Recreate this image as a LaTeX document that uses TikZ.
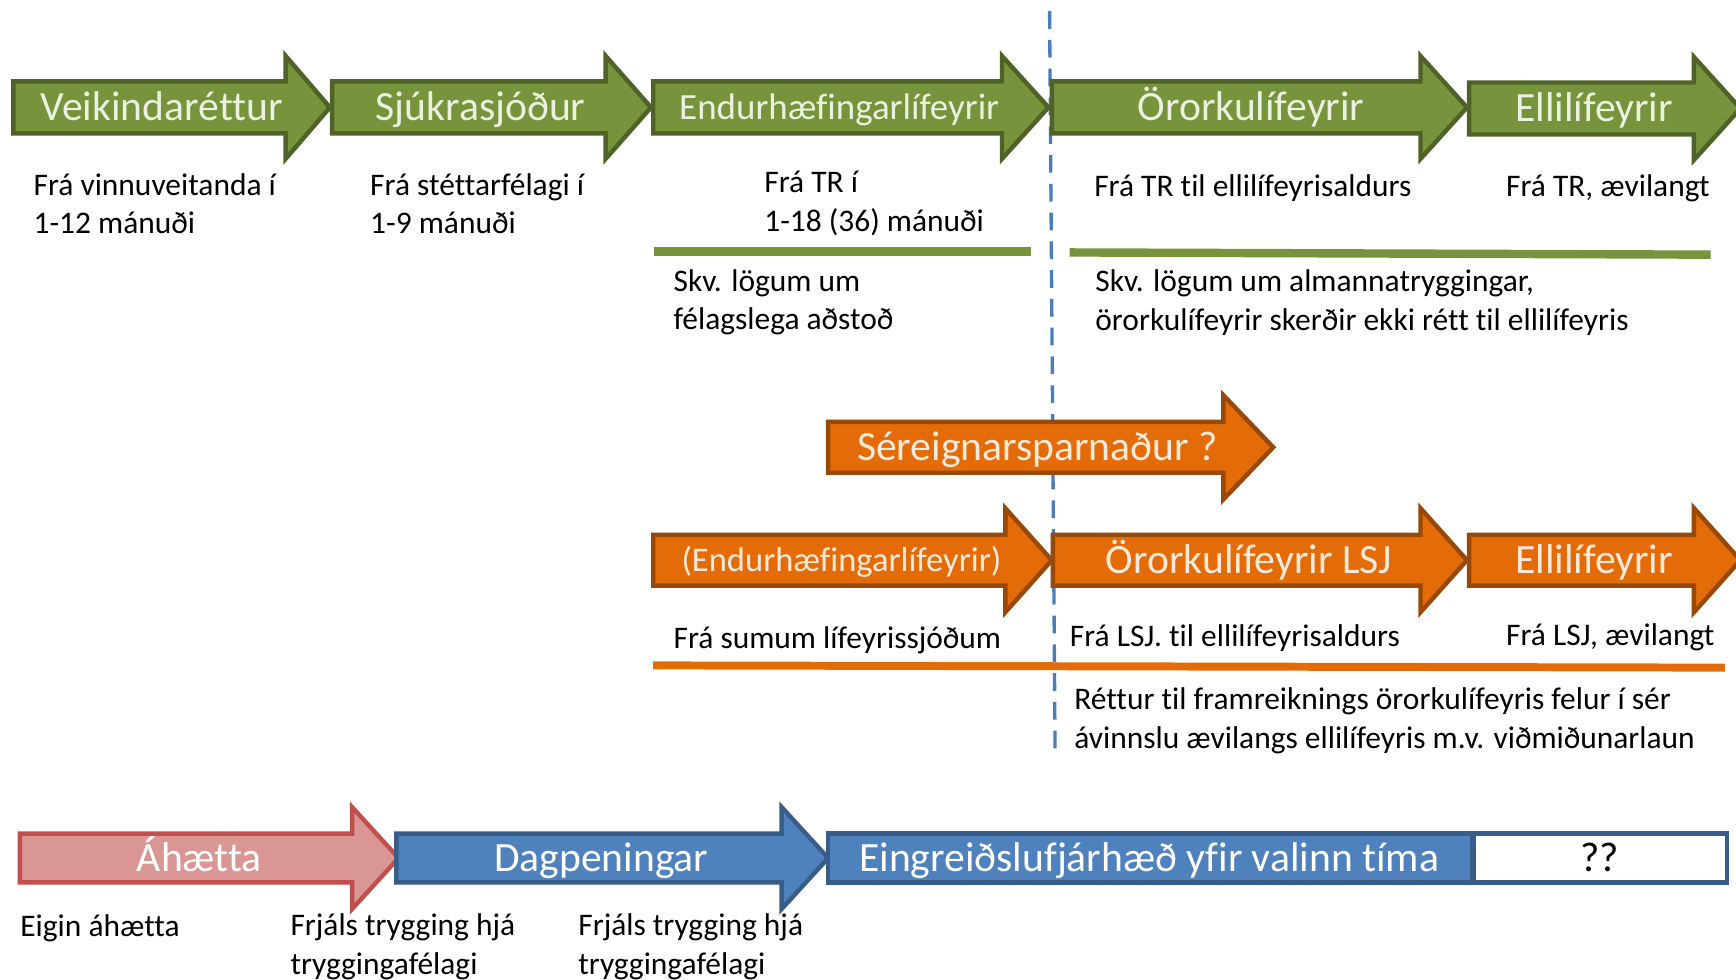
\documentclass[tikz,border=0pt]{standalone}
\usepackage{fontspec}
\setmainfont{Carlito}[Ligatures=NoCommon]
\definecolor{gfill}{HTML}{77933C}
\definecolor{gdraw}{HTML}{4F6228}
\definecolor{gtext}{HTML}{EBF1DE}
\definecolor{ofill}{HTML}{E36C09}
\definecolor{odraw}{HTML}{984807}
\definecolor{otext}{HTML}{FDE9D9}
\definecolor{rfill}{HTML}{D99694}
\definecolor{rdraw}{HTML}{C0504D}
\definecolor{bfill}{HTML}{4F81BD}
\definecolor{bdraw}{HTML}{385D8A}
\definecolor{dline}{HTML}{4A7EBB}
% style, x-left, x-headbase, x-tip, y-centre, body half, head half
\newcommand{\ArrowPath}[7]{%
  \draw[#1] (#2,#5-#6) -- (#3,#5-#6) -- (#3,#5-#7) -- (#4,#5) -- (#3,#5+#7) -- (#3,#5+#6) -- (#2,#5+#6) -- cycle;}
\begin{document}
\begin{tikzpicture}[x=0.5pt,y=-0.5pt,
  garrow/.style={fill=gfill,draw=gdraw,line width=2pt,line join=miter},
  oarrow/.style={fill=ofill,draw=odraw,line width=2pt,line join=miter},
  rarrow/.style={fill=rfill,draw=rdraw,line width=2pt,line join=miter},
  barrow/.style={fill=bfill,draw=bdraw,line width=2pt,line join=miter},
  lbl/.style={font=\fontsize{18.8}{22}\selectfont,inner sep=0pt,anchor=base},
  txt/.style={font=\fontsize{14.2}{17.5}\selectfont,inner sep=0pt,anchor=west,align=left},
  gline/.style={draw=gfill,line width=3.8pt},
  oline/.style={draw=ofill,line width=3.6pt}]
\useasboundingbox (0,0) rectangle (1568,885);

% horizontal rules
\coordinate (g1a) at (591,227); \coordinate (g1b) at (931,227);
\coordinate (g2a) at (966,228); \coordinate (g2b) at (1545,230);
\coordinate (o1a) at (590,601); \coordinate (o1b) at (1558,603);
\draw[gline] (g1a) -- (g1b);
\draw[gline] (g2a) -- (g2b);
\draw[oline] (o1a) -- (o1b);

% dashed divider
\coordinate (d1) at (948,10); \coordinate (d2) at (953,682);
\draw[dline,line width=1.5pt,dash pattern=on 8pt off 5pt] (d1) -- (d2);

% green row
\ArrowPath{garrow}{12}{258}{298}{97}{23.5}{46.5}
\ArrowPath{garrow}{300}{547}{588}{97}{23.5}{46.5}
\ArrowPath{garrow}{590}{905}{947}{97}{23.5}{46.5}
\ArrowPath{garrow}{950}{1283}{1325}{97}{23.5}{46.5}
\ArrowPath{garrow}{1327}{1530}{1572}{98}{23.5}{46.5}
\node[lbl,text=gtext] (gA) at (146,109) {Veikindaréttur};
\node[lbl,text=gtext] (gB) at (434,109) {Sjúkrasjóður};
\node[lbl,text=gtext,font=\fontsize{16.7}{20}\selectfont] (gC) at (758,108) {Endurhæfingarlífeyrir};
\node[lbl,text=gtext] (gD) at (1130,109) {Örorkulífeyrir};
\node[lbl,text=gtext] (gE) at (1440,110) {Ellilífeyrir};

\node[txt] (tA) at (30,184) {Frá vinnuveitanda í\\1-12 mánuði};
\node[txt] (tB) at (334,184) {Frá stéttarfélagi í\\1-9 mánuði};
\node[txt] (tC) at (690,184) {Frá TR í\\1-18 (36) mánuði};
\node[txt] (tD) at (988,170) {Frá TR til ellilífeyrisaldurs};
\node[txt] (tE) at (1360,170) {Frá TR, ævilangt};
\node[txt] (tF) at (608,273) {Skv. lögum um\\félagslega aðstoð};
\node[txt] (tG) at (989,273) {Skv. lögum um almannatryggingar,\\örorkulífeyrir skerðir ekki rétt til ellilífeyris};

% orange rows
\ArrowPath{oarrow}{748}{1105}{1150}{404}{23}{47}
\node[lbl,text=otext] (oS) at (937,416) {Séreignarsparnaður ?};
\ArrowPath{oarrow}{590}{908}{950}{506}{23}{47}
\ArrowPath{oarrow}{951}{1283}{1325}{506}{23}{47}
\ArrowPath{oarrow}{1327}{1530}{1572}{506}{23}{47}
\node[lbl,text=otext,font=\fontsize{15.6}{19}\selectfont] (oA) at (760,516) {(Endurhæfingarlífeyrir)};
\node[lbl,text=otext] (oB) at (1128,518) {Örorkulífeyrir LSJ};
\node[lbl,text=otext] (oC) at (1440,518) {Ellilífeyrir};

\node[txt] (uA) at (608,578) {Frá sumum lífeyrissjóðum};
\node[txt] (uB) at (966,576) {Frá LSJ. til ellilífeyrisaldurs};
\node[txt] (uC) at (1360,576) {Frá LSJ, ævilangt};
\node[txt] (uD) at (970,651) {Réttur til framreiknings örorkulífeyris felur í sér\\ávinnslu ævilangs ellilífeyris m.v. viðmiðunarlaun};

% bottom row
\ArrowPath{rarrow}{18}{318}{360}{775}{22}{46}
\ArrowPath{barrow}{358}{706}{748}{775}{22}{46}
\draw[barrow] (748,753) rectangle (1330,797);
\draw[draw=bdraw,fill=white,line width=2pt] (1331,753) rectangle (1560,797);
\node[lbl,text=white] (bA) at (180,787) {Áhætta};
\node[lbl,text=white] (bB) at (543,787) {Dagpeningar};
\node[lbl,text=white] (bC) at (1038,787) {Eingreiðslufjárhæð yfir valinn tíma};
\node[lbl,text=black] (bD) at (1445,787) {??};

\node[txt] (vA) at (18,838) {Eigin áhætta};
\node[txt] (vB) at (262,855) {Frjáls trygging hjá\\tryggingafélagi};
\node[txt] (vC) at (522,855) {Frjáls trygging hjá\\tryggingafélagi};
\end{tikzpicture}
\end{document}
